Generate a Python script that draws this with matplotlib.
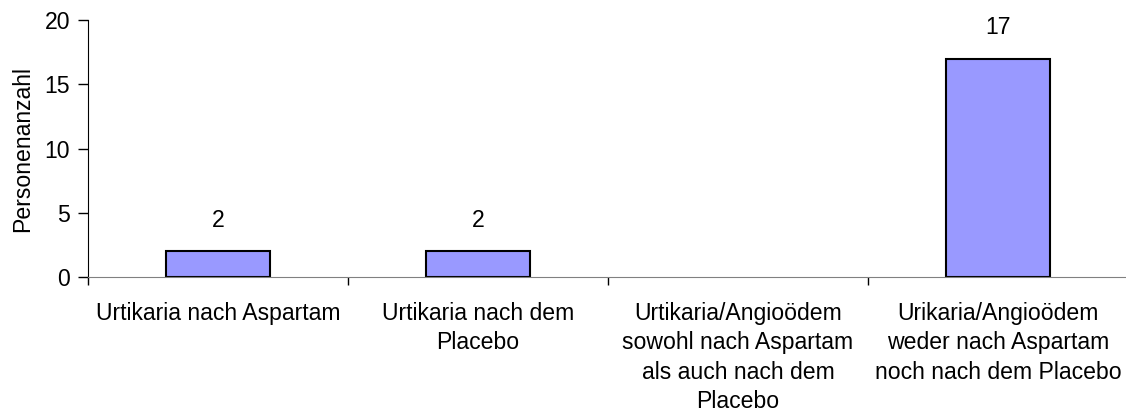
import matplotlib
matplotlib.use("Agg")
import matplotlib.pyplot as plt
import numpy as np

# data
categories = [
    "Urtikaria nach Aspartam",
    "Urtikaria nach dem\nPlacebo",
    "Urtikaria/Angioödem\nsowohl nach Aspartam\nals auch nach dem\nPlacebo",
    "Urikaria/Angioödem\nweder nach Aspartam\nnoch nach dem Placebo",
]
counts = [2, 2, 0, 17]
y_ticks = [0, 5, 10, 15, 20]

plt.rcParams['font.family'] = ['Liberation Sans', 'DejaVu Sans']
FS = 16.6

fig = plt.figure(figsize=(11.26, 4.12), dpi=100)
ax = fig.add_axes([88 / 1126, 135 / 412, 1040 / 1126, 257 / 412])

pos = np.arange(len(categories)) + 0.5
bars = ax.bar(pos, counts, width=0.4, color='#9999FF', edgecolor='black',
              linewidth=1.5, zorder=3)
# empty category: no visible bar outline
for b, c in zip(bars, counts):
    if c == 0:
        b.set_linewidth(0)
labels = [str(c) if c else '' for c in counts]
ax.bar_label(bars, labels=labels, padding=14, fontsize=FS)

ax.set_xlim(0, len(categories))
ax.set_ylim(0, 20)
ax.set_yticks(y_ticks)
ax.tick_params(axis='y', direction='out', length=7, width=1, pad=6,
               labelsize=FS, color='black')

# category boundaries as major ticks, labels on minor ticks
ax.set_xticks(np.arange(len(categories) + 1))
ax.set_xticklabels([])
ax.tick_params(axis='x', which='major', direction='out', length=6, width=1,
               color='black')
ax.set_xticks(pos, minor=True)
ax.set_xticklabels(categories, minor=True, fontsize=FS, linespacing=1.36,
                   ha='center', va='top')
ax.tick_params(axis='x', which='minor', length=0, pad=18)

ax.spines['top'].set_visible(False)
ax.spines['right'].set_visible(False)
ax.spines['left'].set_color('black')
ax.spines['bottom'].set_color('#808080')
ax.spines['bottom'].set_zorder(4)

ax.set_ylabel('Personenanzahl', fontsize=FS, labelpad=7)

fig.savefig('out.png', dpi=100)
